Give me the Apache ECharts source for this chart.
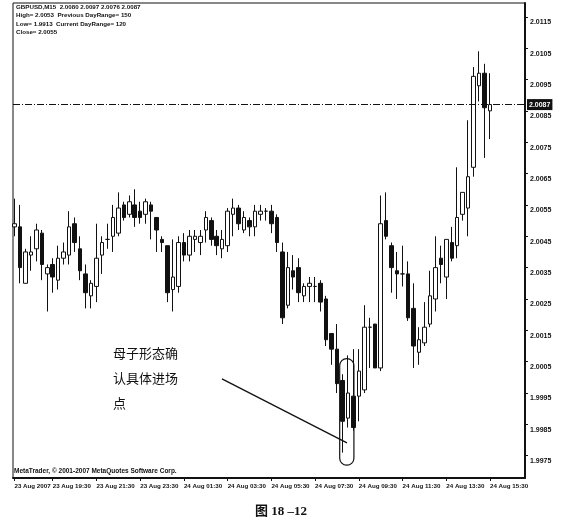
<!DOCTYPE html>
<html><head><meta charset="utf-8">
<script src="https://cdn.jsdelivr.net/npm/echarts@6/dist/echarts.min.js"></script>
<style>html,body{margin:0;padding:0;background:#fff}#c{width:562px;height:527px}</style>
</head><body><div id="c"></div>
<script>
// GBPUSD M15 bars, 23 Aug 2007 17:45 -> 24 Aug 2007 15:30
const opens = [2.0048,2.0048,2.0030,2.0039,2.0041,2.0046,2.0033,2.0036,2.0031,2.0038,
2.0039,2.0049,2.0041,2.0033,2.0026,2.0029,2.0039,2.0044,2.0045,2.0046,
2.0055,2.0052,2.0055,2.0053,2.0052,2.0055,2.0051,2.0044,2.0042,2.0028,
2.0029,2.0043,2.0039,2.0044,2.0043,2.0047,2.0050,2.0045,2.0041,2.0042,
2.0052,2.0054,2.0047,2.0050,2.0048,2.0052,2.0053,2.0053,2.0051,2.0040,
2.0023,2.0034,2.0035,2.0026,2.0029,2.0029,2.0030,2.0025,2.0014,2.0009,
1.9999,1.9987,1.9994,1.9994,1.9996,2.0016,2.0017,2.0003,2.0050,2.0042,
2.0034,2.0033,2.0033,2.0022,2.0008,2.0011,2.0017,2.0025,2.0038,2.0032,
2.0043,2.0042,2.0052,2.0054,2.0067,2.0093,2.0097,2.0085];
const closes = [2.0049,2.0035,2.0040,2.0040,2.0047,2.0036,2.0035,2.0032,2.0038,2.0040,
2.0048,2.0043,2.0034,2.0027,2.0030,2.0038,2.0043,2.0044,2.0051,2.0054,
2.0051,2.0056,2.0051,2.0051,2.0056,2.0053,2.0047,2.0043,2.0027,2.0032,
2.0043,2.0039,2.0045,2.0045,2.0045,2.0051,2.0044,2.0042,2.0044,2.0053,
2.0054,2.0049,2.0051,2.0048,2.0053,2.0053,2.0053,2.0049,2.0043,2.0019,
2.0035,2.0032,2.0027,2.0029,2.0030,2.0029,2.0024,2.0012,2.0009,1.9998,
1.9986,1.9995,1.9984,2.0002,2.0016,2.0016,2.0003,2.0049,2.0045,2.0035,
2.0033,2.0033,2.0019,2.0010,2.0012,2.0016,2.0026,2.0035,2.0036,2.0044,
2.0038,2.0051,2.0059,2.0064,2.0096,2.0097,2.0086,2.0087];
const lows = [2.0045,2.0030,2.0030,2.0034,2.0037,2.0031,2.0021,2.0027,2.0028,2.0036,
2.0036,2.0040,2.0031,2.0022,2.0022,2.0024,2.0033,2.0041,2.0040,2.0045,
2.0050,2.0051,2.0048,2.0049,2.0049,2.0044,2.0040,2.0040,2.0024,2.0021,
2.0027,2.0037,2.0037,2.0040,2.0039,2.0043,2.0042,2.0039,2.0038,2.0040,
2.0045,2.0047,2.0046,2.0045,2.0045,2.0050,2.0050,2.0046,2.0040,2.0017,
2.0022,2.0028,2.0024,2.0024,2.0024,2.0024,2.0021,2.0010,2.0004,1.9995,
1.9976,1.9984,1.9983,1.9986,1.9995,2.0003,2.0003,2.0002,2.0044,2.0027,
2.0025,2.0029,2.0018,2.0003,2.0004,2.0010,2.0016,2.0021,2.0030,2.0025,
2.0037,2.0038,2.0050,2.0045,2.0064,2.0088,2.0070,2.0076];
const highs = [2.0057,2.0055,2.0041,2.0045,2.0049,2.0047,2.0036,2.0038,2.0042,2.0043,
2.0053,2.0051,2.0045,2.0036,2.0031,2.0049,2.0045,2.0049,2.0055,2.0059,
2.0056,2.0058,2.0060,2.0056,2.0057,2.0056,2.0051,2.0045,2.0042,2.0044,
2.0045,2.0046,2.0047,2.0047,2.0047,2.0053,2.0051,2.0047,2.0047,2.0054,
2.0057,2.0055,2.0053,2.0051,2.0055,2.0055,2.0054,2.0055,2.0052,2.0043,
2.0040,2.0039,2.0038,2.0030,2.0032,2.0032,2.0031,2.0026,2.0014,2.0017,
2.0001,2.0007,2.0009,2.0009,2.0023,2.0019,2.0017,2.0058,2.0059,2.0043,
2.0040,2.0042,2.0037,2.0030,2.0016,2.0024,2.0034,2.0045,2.0042,2.0044,
2.0048,2.0067,2.0059,2.0082,2.0099,2.0104,2.0100,2.0097];

const timeTickIndex = [0,7,15,23,31,39,47,55,63,71,79,87];
const timeTickLabels = ['23 Aug 2007','23 Aug 19:30','23 Aug 21:30','23 Aug 23:30','24 Aug 01:30','24 Aug 03:30',
  '24 Aug 05:30','24 Aug 07:30','24 Aug 09:30','24 Aug 11:30','24 Aug 13:30','24 Aug 15:30'];
const priceTicks = [1.9975,1.9985,1.9995,2.0005,2.0015,2.0025,2.0035,2.0045,2.0055,2.0065,2.0075,2.0085,2.0095,2.0105,2.0115];
const lastPrice = 2.0087;
const headerLines = ['GBPUSD,M15  2.0080 2.0097 2.0076 2.0087','High= 2.0053  Previous DayRange= 150','Low= 1.9913  Current DayRange= 120','Close= 2.0055'];
const copyright = 'MetaTrader, © 2001-2007 MetaQuotes Software Corp.';
const noteLines = ['母子形态确','认具体进场','点'];
const caption = '图 18 –12';

const sans = "'Liberation Sans',Arial,sans-serif";
const ink = '#111';
const candles = opens.map((o, i) => [i, o, closes[i], lows[i], highs[i]]);

const chart = echarts.init(document.getElementById('c'), null, {renderer: 'canvas'});
const option = {
  animation: false,
  backgroundColor: '#fff',
  grid: {left: 13, right: 37, top: 3, bottom: 49, show: true, borderColor: ink, borderWidth: 1},
  xAxis: {
    type: 'value', min: -0.27, max: 93.4,
    splitLine: {show: false},
    axisLine: {show: true, lineStyle: {color: ink, width: 2}},
    axisTick: {show: true, customValues: timeTickIndex, length: 3, lineStyle: {color: ink}},
    axisLabel: {customValues: timeTickIndex, formatter: v => timeTickLabels[timeTickIndex.indexOf(v)] || '',
      showMinLabel: true, showMaxLabel: true, hideOverlap: false,
      align: 'left', margin: 5, color: ink, fontFamily: sans, fontWeight: 'bold', fontSize: 6.2}
  },
  yAxis: {
    type: 'value', position: 'right', min: 1.99679, max: 2.01194, scale: true,
    splitLine: {show: false},
    axisLine: {show: true, onZero: false, lineStyle: {color: ink, width: 2}},
    axisTick: {show: true, customValues: priceTicks, length: 3, lineStyle: {color: ink}},
    axisLabel: {customValues: priceTicks, formatter: v => v.toFixed(4), margin: 5,
      verticalAlign: 'top', padding: [2, 0, 0, 0],
      color: ink, fontFamily: sans, fontWeight: 'bold', fontSize: 7}
  },
  series: [{
    type: 'candlestick',
    dimensions: ['idx', 'open', 'close', 'lowest', 'highest'],
    encode: {x: 'idx', y: ['open', 'close', 'lowest', 'highest']},
    data: candles,
    barWidth: 4,
    itemStyle: {color: '#fff', color0: ink, borderColor: ink, borderColor0: ink, borderWidth: 1}
  }, {
    type: 'line', data: [], silent: true,
    markLine: {
      silent: true, symbol: 'none', precision: 4,
      lineStyle: {color: ink, width: 1, type: [7, 2, 1, 2]},
      label: {position: 'end', distance: 2, formatter: p => Number(p.value).toFixed(4), color: '#fff',
        backgroundColor: ink, padding: [2, 2], fontFamily: sans, fontWeight: 'bold', fontSize: 7},
      data: [{yAxis: lastPrice}]
    }
  }]
};
chart.setOption(option);

const px = (i, v) => chart.convertToPixel({gridIndex: 0}, [i, v]);
const capA = px(59.5, 2.0006), capB = px(62.1, 1.9972);
const lineA = px(37.96, 1.99995), lineB = px(60.83, 1.99791);
const graphics = [];
headerLines.forEach((t, k) => graphics.push({type: 'text', left: 16, top: 4 + k * 8.5,
  style: {text: t, fill: ink, font: "bold 6.2px " + sans}}));
graphics.push({type: 'text', left: 14, top: 468, style: {text: copyright, fill: ink, font: "bold 6.5px " + sans}});
noteLines.forEach((t, k) => graphics.push({type: 'text', left: 113, top: 347 + k * 25,
  style: {text: t, fill: ink, font: "13px 'Noto Sans CJK SC'"}}));
graphics.push({type: 'line', shape: {x1: lineA[0], y1: lineA[1], x2: lineB[0], y2: lineB[1]},
  style: {stroke: ink, lineWidth: 1.3}});
graphics.push({type: 'rect', shape: {x: capA[0], y: capA[1], width: capB[0] - capA[0], height: capB[1] - capA[1], r: 7},
  style: {fill: null, stroke: ink, lineWidth: 1.2}, z: 100});
graphics.push({type: 'text', left: 'center', top: 505,
  style: {text: caption, fill: ink, font: "bold 13px 'Liberation Serif','Noto Sans CJK SC',serif"}});
chart.setOption({graphic: graphics});
</script></body></html>
